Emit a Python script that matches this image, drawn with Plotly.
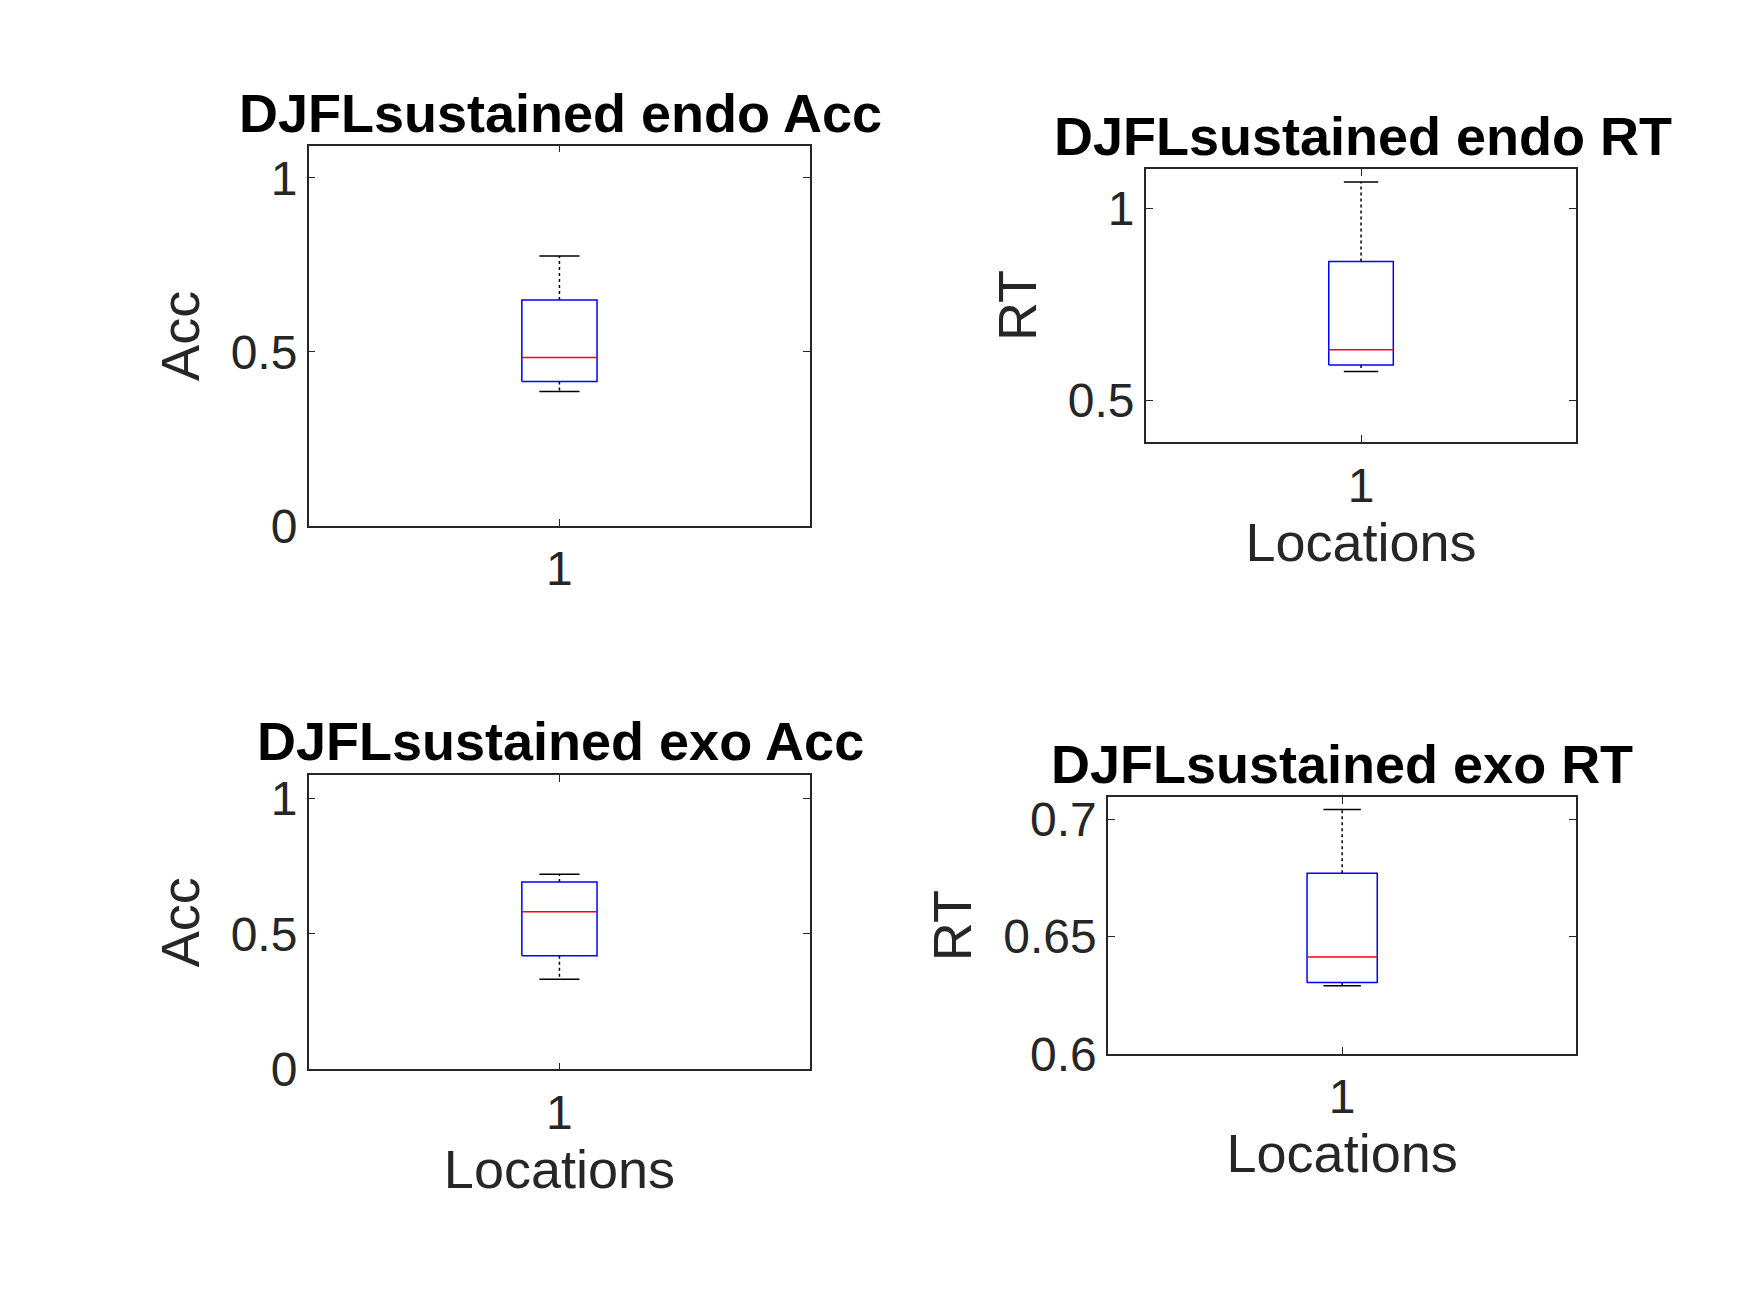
import plotly.graph_objects as go

titles = ["DJFLsustained endo Acc", "DJFLsustained endo RT",
          "DJFLsustained exo Acc", "DJFLsustained exo RT"]
ylabels = ["Acc", "RT", "Acc", "RT"]
xlabels = ["", "Locations", "Locations", "Locations"]
lower = [0.386, 0.575, 0.333, 0.6291]
q1 = [0.415, 0.592, 0.419, 0.6305]
median = [0.484, 0.632, 0.581, 0.6413]
q3 = [0.649, 0.862, 0.691, 0.677]
upper = [0.775, 1.069, 0.72, 0.7042]
yranges = [[0, 1.092], [0.391, 1.103], [0, 1.085], [0.6, 0.7094]]
yticks = [[0, 0.5, 1], [0.5, 1], [0, 0.5, 1], [0.6, 0.65, 0.7]]
yticktext = [["0", "0.5", "1"], ["0.5", "1"], ["0", "0.5", "1"], ["0.6", "0.65", "0.7"]]

W, H = 1560, 1170
def fx(x): return (x - 5.5) / 1.009
def fy(y): return (y - 4.7) / 0.994
boxes_px = [(276, 727, 126, 471), (1029, 1416, 147, 395),
            (276, 727, 697, 964), (995, 1416, 717, 950)]
title_px = [(502, 96), (1224, 117), (502, 666), (1205, 687)]

fig = go.Figure()
font = "Liberation Sans, Arial, sans-serif"
tc = "#262626"
hw, cw = 0.075, 0.04
for i in range(4):
    xa = "x" if i == 0 else f"x{i+1}"
    ya = "y" if i == 0 else f"y{i+1}"
    fig.add_trace(go.Scatter(x=[1-hw, 1+hw, 1+hw, 1-hw, 1-hw],
                             y=[q1[i], q1[i], q3[i], q3[i], q1[i]],
                             mode="lines", line=dict(color="blue", width=1.5),
                             xaxis=xa, yaxis=ya, showlegend=False))
    fig.add_trace(go.Scatter(x=[1-hw, 1+hw], y=[median[i], median[i]], mode="lines",
                             line=dict(color="red", width=1.5), xaxis=xa, yaxis=ya, showlegend=False))
    for a, b in [(q3[i], upper[i]), (q1[i], lower[i])]:
        fig.add_trace(go.Scatter(x=[1, 1], y=[a, b], mode="lines",
                                 line=dict(color="black", width=1.5, dash="dot"),
                                 xaxis=xa, yaxis=ya, showlegend=False))
    for v in [upper[i], lower[i]]:
        fig.add_trace(go.Scatter(x=[1-cw, 1+cw], y=[v, v], mode="lines",
                                 line=dict(color="black", width=1.5),
                                 xaxis=xa, yaxis=ya, showlegend=False))
    x0, x1, y0, y1 = boxes_px[i]
    axcommon = dict(showline=True, linecolor=tc, linewidth=1.5, mirror="ticks",
                    ticks="inside", ticklen=7, tickcolor=tc, showgrid=False, zeroline=False,
                    tickfont=dict(size=48, color=tc, family=font))
    fig.layout[("xaxis" if i == 0 else f"xaxis{i+1}")] = dict(
        domain=[fx(x0)/W, fx(x1)/W], range=[0.5, 1.5], tickvals=[1], ticktext=["1"],
        anchor=ya, title=dict(text=xlabels[i], font=dict(size=54, color=tc, family=font), standoff=8),
        **axcommon)
    fig.layout[("yaxis" if i == 0 else f"yaxis{i+1}")] = dict(
        domain=[1-fy(y1)/H, 1-fy(y0)/H], range=yranges[i], tickvals=yticks[i], ticktext=yticktext[i],
        anchor=xa, title=dict(text=ylabels[i], font=dict(size=54, color=tc, family=font), standoff=14),
        **axcommon)
    tx, ty = title_px[i]
    fig.add_annotation(text="<b>" + titles[i] + "</b>", x=fx(tx)/W, y=1-fy(ty)/H, xref="paper", yref="paper",
                       showarrow=False, xanchor="center", yanchor="middle",
                       font=dict(size=54, color="black", family=font))

fig.update_layout(width=1750, height=1313, margin=dict(l=0, r=0, t=0, b=0),
                  plot_bgcolor="white", paper_bgcolor="white")
fig.write_html("out.html")
